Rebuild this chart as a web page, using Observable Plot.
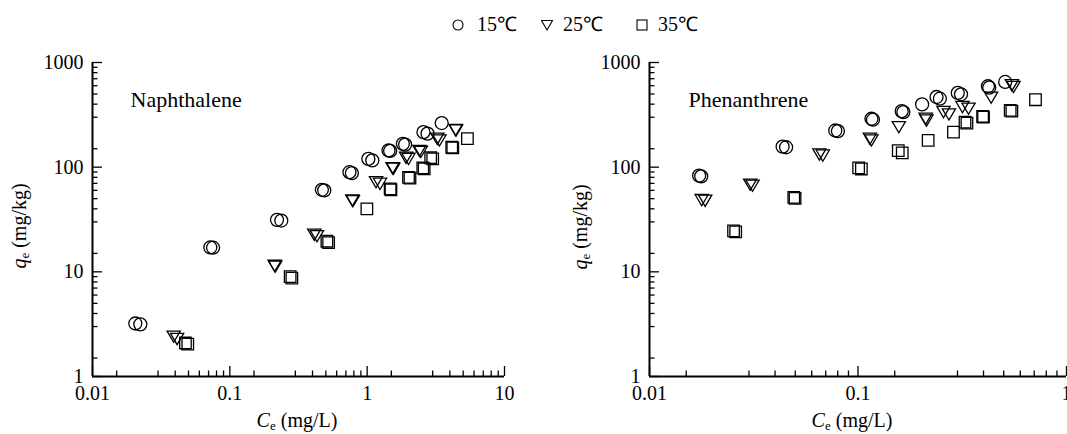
<!DOCTYPE html>
<html><head><meta charset="utf-8">
<script src="https://cdn.jsdelivr.net/npm/d3@7"></script>
<script src="https://cdn.jsdelivr.net/npm/@observablehq/plot@0.6"></script>
<style>
html,body{margin:0;padding:0;background:#fff;overflow:hidden;width:1067px;height:434px;}
#wrap{position:relative;width:1067px;height:434px;overflow:hidden;font-family:'Liberation Serif','Times New Roman',serif;color:#000;}
.abs{position:absolute;white-space:nowrap;line-height:1;font-family:'Liberation Serif','Times New Roman',serif;}
.panel{position:absolute;top:0;}
.panel svg{max-width:none;overflow:visible;}
.lab{font-size:20px;}
.lab sub{font-size:13px;vertical-align:-3px;line-height:0;}
</style></head><body><div id="wrap"></div>
<script>
// ---- data (Ce mg/L, qe mg/kg) ----
const naph15 = [[0.0205,3.21],[0.0223,3.15],[0.0721,17.1],[0.0755,17.0],[0.2205,31.4],[0.237,30.9],[0.468,60.8],[0.487,60.0],[0.743,89.5],[0.774,87.8],[1.02,120],[1.09,116],[1.43,144.5],[1.47,143],[1.82,167],[1.89,164],[2.57,216],[2.75,209],[3.49,264]];
const naph25 = [[0.039,2.40],[0.0413,2.28],[0.212,11.4],[0.214,11.2],[0.412,22.6],[0.431,21.9],[0.78,48],[0.787,47.3],[1.16,71.9],[1.24,69.3],[1.53,97.5],[1.55,96.6],[1.92,123],[2.0,120],[2.40,143],[2.46,140],[3.24,187],[3.36,180],[4.40,226],[4.44,224]];
const naph35 = [[0.0475,2.09],[0.0494,2.04],[0.275,9.0],[0.283,8.7],[0.509,19.6],[0.524,19.0],[0.995,40],[1.47,62],[1.49,60.8],[2.0,80],[2.05,78.5],[2.54,98.6],[2.6,96.6],[2.9,123],[3.0,120],[4.13,155],[4.2,153],[5.37,187]];
const phen15 = [[0.0173,83],[0.0177,81.7],[0.0435,157],[0.0452,155],[0.0778,224],[0.0801,221],[0.116,290],[0.118,284],[0.162,343],[0.165,336],[0.203,398],[0.238,468],[0.247,451],[0.301,512],[0.312,497],[0.420,593],[0.426,575],[0.508,652]];
const phen25 = [[0.0178,48.4],[0.0185,47.7],[0.0304,68],[0.0312,66.5],[0.0653,132],[0.0678,129],[0.114,186.5],[0.116,180],[0.157,241],[0.211,290],[0.213,279],[0.257,336],[0.273,319],[0.317,375],[0.339,362],[0.435,461],[0.547,606],[0.557,584]];
const phen35 = [[0.0253,24.6],[0.0259,24.1],[0.0492,51.4],[0.0499,50.3],[0.1007,98.3],[0.1038,96.1],[0.156,144],[0.163,137],[0.217,180],[0.287,216],[0.326,269],[0.333,263],[0.396,305],[0.400,301],[0.537,349],[0.547,343],[0.710,441]];

const seriesLabels = ["15℃","25℃","35℃"];
const panelTitles = ["Naphthalene","Phenanthrene"];
const yMajor = [1,10,100,1000];
const naphXMajor = [0.01,0.1,1,10];
const phenXMajor = [0.01,0.1,1];
const minorMult = [1.5,3,4,5,6,7,8,9];

const FONT = "'Liberation Serif','Times New Roman',serif";
const HEIGHT = 434, MT = 62, MB = 58;
const triangleDown = {draw(ctx, size){
  const s = Math.sqrt(size)*1.15, h = s*0.85;
  ctx.moveTo(-s/2,-h/2); ctx.lineTo(s/2,-h/2); ctx.lineTo(0,h/2); ctx.closePath();
}};
const symbols = ["circle", triangleDown, "square"];

function minors(major){
  const out = [];
  for (let i=0;i<major.length-1;i++) for (const m of minorMult) out.push(major[i]*m);
  return out;
}

function panel(sets, o){
  const yMinor = minors(yMajor);
  const xMinor = minors(o.xMajor);
  const fmt = d => String(d);
  const frameH = HEIGHT - MT - MB;
  const frameW = o.width - o.marginLeft - o.marginRight;
  const tickOpts = {stroke: "black", strokeWidth: 1.3};
  return Plot.plot({
    width: o.width, height: HEIGHT,
    marginLeft: o.marginLeft, marginRight: o.marginRight, marginTop: MT, marginBottom: MB,
    style: {fontFamily: FONT, fontSize: "20px", color: "black", background: "transparent", overflow: "visible"},
    x: {type: "log", domain: o.xDomain, ticks: o.xMajor, tickFormat: fmt, tickSize: 0, tickPadding: 9, label: null},
    y: {type: "log", domain: [1,1000], ticks: yMajor, tickFormat: fmt, tickSize: 0, tickPadding: 9, label: null},
    marks: [
      Plot.tickX(xMinor, {x: d => d, insetTop: frameH - 5.5, ...tickOpts}),
      Plot.tickX(o.xMajor, {x: d => d, insetTop: frameH - 10, ...tickOpts}),
      Plot.tickY(yMinor, {y: d => d, insetRight: frameW - 5.5, ...tickOpts}),
      Plot.tickY(yMajor, {y: d => d, insetRight: frameW - 10, ...tickOpts}),
      Plot.ruleX([o.xDomain[0]], {stroke: "black", strokeWidth: 2}),
      Plot.ruleY([1], {stroke: "black", strokeWidth: 2}),
      ...sets.map((data, i) => Plot.dot(data, {x: d => d[0], y: d => d[1], symbol: symbols[i], r: 6.5, stroke: "black", fill: "none", strokeWidth: 1.3})),
      Plot.text([o.title], {frameAnchor: "top-left", dx: o.titleDx, dy: 29, textAnchor: "start", fontSize: 22, fill: "black"})
    ]
  });
}

const wrap = document.getElementById("wrap");

const left = panel([naph15, naph25, naph35], {width: 530, marginLeft: 92, marginRight: 26, xDomain: [0.01,10], xMajor: naphXMajor, title: panelTitles[0], titleDx: 38});
const ld = document.createElement("div"); ld.className = "panel"; ld.style.left = "0px"; ld.appendChild(left); wrap.appendChild(ld);

const right = panel([phen15, phen25, phen35], {width: 530, marginLeft: 109, marginRight: 4, xDomain: [0.01,1], xMajor: phenXMajor, title: panelTitles[1], titleDx: 39});
const rd = document.createElement("div"); rd.className = "panel"; rd.style.left = "540px"; rd.appendChild(right); wrap.appendChild(rd);

// axis labels
function addLabel(html, cx, top, rotate){
  const d = document.createElement("div");
  d.className = "abs lab"; d.innerHTML = html;
  d.style.left = cx + "px"; d.style.top = top + "px";
  d.style.transform = rotate ? "translate(-50%,-50%) rotate(-90deg)" : "translateX(-50%)";
  wrap.appendChild(d);
}
const xLab = '<i>C</i><sub>e</sub> (mg/L)';
const yLab = '<i>q</i><sub>e</sub> (mg/kg)';
addLabel(xLab, 297, 410, false);
addLabel(xLab, 852, 410, false);
addLabel(yLab, 19, 226, true);
addLabel(yLab, 580, 227, true);

// legend
const legendShapes = [
  '<circle cx="6" cy="6" r="5" fill="none" stroke="black" stroke-width="1.1"/>',
  '<path d="M0.5,1.5 L11.5,1.5 L6,11 Z" fill="none" stroke="black" stroke-width="1.1"/>',
  '<rect x="1" y="1" width="10" height="10" fill="none" stroke="black" stroke-width="1.1"/>'
];
const legX = [452, 541, 636];
const legTextX = [477, 563, 658];
seriesLabels.forEach((lab, i) => {
  const s = document.createElement("div");
  s.className = "abs"; s.style.left = legX[i] + "px"; s.style.top = "19px";
  s.innerHTML = '<svg width="12" height="12" style="display:block">' + legendShapes[i] + '</svg>';
  wrap.appendChild(s);
  const t = document.createElement("div");
  t.className = "abs"; t.style.left = legTextX[i] + "px"; t.style.top = "14px"; t.style.fontSize = "20px";
  t.textContent = lab;
  wrap.appendChild(t);
});
</script></body></html>
